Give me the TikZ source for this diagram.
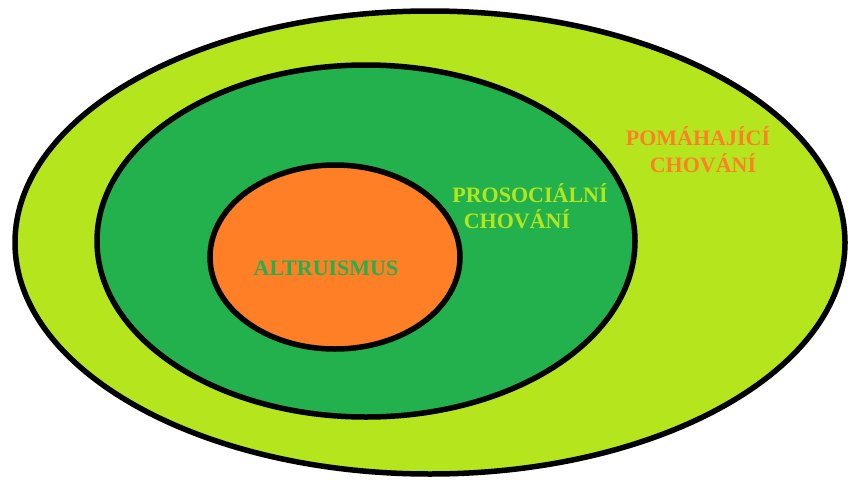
\documentclass[tikz,border=0pt]{standalone}
\usepackage{fontspec}
\setmainfont{Liberation Serif}
\definecolor{lime}{HTML}{B5E61D}
\definecolor{grn}{HTML}{22B14C}
\definecolor{orng}{HTML}{FF7F27}
\begin{document}
\begin{tikzpicture}[x=1pt,y=-1pt,
  ring/.style={draw=black,line width=5.5pt},
  lbl/.style={anchor=base,inner sep=0pt,font=\fontsize{22}{26}\selectfont\bfseries}]
\useasboundingbox (0,0) rectangle (848,479);
\path[ring,fill=lime] (430,242.5) ellipse [x radius=415, y radius=231.5];
\path[ring,fill=grn] (366,241) ellipse [x radius=269, y radius=176];
\path[ring,fill=orng] (335,257) ellipse [x radius=125, y radius=92];
\node[lbl,text=grn] (alt) at (326,275) {ALTRUISMUS};
\node[lbl,text=lime] (pro1) at (530,202) {PROSOCIÁLNÍ};
\node[lbl,text=lime] (pro2) at (517,228) {CHOVÁNÍ};
\node[lbl,text=orng] (pom1) at (698,145) {POMÁHAJÍCÍ};
\node[lbl,text=orng] (pom2) at (703,172) {CHOVÁNÍ};
\end{tikzpicture}
\end{document}
